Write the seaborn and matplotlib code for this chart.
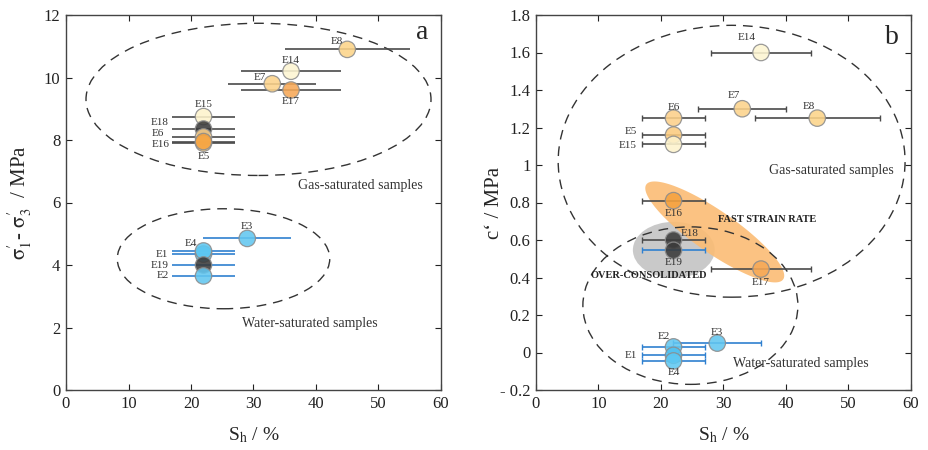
import numpy as np
import pandas as pd
import matplotlib
matplotlib.use("Agg")
import matplotlib.pyplot as plt
import seaborn as sns
from matplotlib.patches import Ellipse, Polygon

# ---------------- data ----------------
# panel a : deviatoric stress vs hydrate saturation
samples_a = ["E8", "E14", "E7", "E17", "E15", "E18", "E6", "E5", "E16",
             "E3", "E1", "E4", "E19", "E2"]
sh_a = [45, 36, 33, 36, 22, 22, 22, 22, 22, 29, 22, 22, 22, 22]
sh_err_a = [10, 8, 7, 8, 5, 5, 5, 5, 5, 7, 5, 5, 5, 5]
dev_a = [10.9, 10.2, 9.8, 9.6, 8.75, 8.35, 8.1, 7.9, 7.95,
         4.85, 4.35, 4.45, 4.0, 3.65]

# panel b : cohesion vs hydrate saturation
samples_b = ["E14", "E7", "E6", "E8", "E5", "E15", "E16", "E18", "E19",
             "E17", "E3", "E2", "E1", "E4"]
sh_b = [36, 33, 22, 45, 22, 22, 22, 22, 22, 36, 29, 22, 22, 22]
sh_err_b = [8, 7, 5, 10, 5, 5, 5, 5, 5, 8, 7, 5, 5, 5]
coh_b = [1.60, 1.30, 1.25, 1.25, 1.16, 1.11, 0.81, 0.60, 0.545,
         0.445, 0.05, 0.03, -0.015, -0.045]

water_samples = ["E1", "E2", "E3", "E4", "E19"]

x_ticks = [0, 10, 20, 30, 40, 50, 60]
ya_ticks = [0, 2, 4, 6, 8, 10, 12]
yb_ticks = [-0.2, 0, 0.2, 0.4, 0.6, 0.8, 1.0, 1.2, 1.4, 1.6, 1.8]
yb_labels = ["- 0.2", "0", "0.2", "0.4", "0.6", "0.8", "1", "1.2", "1.4", "1.6", "1.8"]

# ---------------- styles ----------------
fill = {"E8": "#fcd489", "E14": "#fdf5d2", "E7": "#fcd38b", "E17": "#f6a856",
        "E15": "#fdf3cc", "E18": "#3a3a3a", "E6": "#fcd08a", "E5": "#fbcb7e",
        "E16": "#f5a23e", "E3": "#62c6f0", "E1": "#4fc0ef", "E4": "#5ec8f2",
        "E19": "#3a3a3a", "E2": "#62c6f0"}
bar_gray = "#4a4a4a"
bar_blue = "#2f80d0"

# label offsets (pixels) and alignment
off_a = {"E8": (-10, 8, "center"), "E14": (0, 11, "center"), "E7": (-12, 6, "center"),
         "E17": (0, -12, "center"), "E15": (0, 12, "center"), "E18": (-35, 7, "right"),
         "E6": (-39, 3, "right"), "E16": (-34, -3, "right"), "E5": (0, -13, "center"),
         "E3": (0, 12, "center"), "E4": (-13, 7, "center"), "E1": (-35, 0, "right"),
         "E19": (-35, 0, "right"), "E2": (-35, 0, "right")}
off_b = {"E14": (-14, 15, "center"), "E7": (-8, 13, "center"), "E6": (0, 11, "center"),
         "E8": (-8, 12, "center"), "E5": (-37, 3, "right"), "E15": (-37, -1, "right"),
         "E16": (0, -13, "center"), "E18": (16, 6, "center"), "E19": (0, -12, "center"),
         "E17": (0, -13, "center"), "E3": (0, 11, "center"), "E2": (-10, 10, "center"),
         "E1": (-36, 0, "right"), "E4": (0, -12, "center")}

sns.set_theme(style="ticks")
plt.rcParams["font.family"] = ["Liberation Serif", "DejaVu Serif"]
plt.rcParams["mathtext.fontset"] = "stix"

fig = plt.figure(figsize=(9.29, 4.5), dpi=100)
axa = fig.add_axes([66 / 929, 60 / 450, 375 / 929, 375 / 450])
axb = fig.add_axes([536 / 929, 60 / 450, 375 / 929, 375 / 450])

dash = (0, (7, 5))


def draw_panel(ax, samples, xs, xerr, ys, offs, capsize):
    for s, x, e, y in zip(samples, xs, xerr, ys):
        col = bar_blue if s in water_samples else bar_gray
        ax.errorbar(x, y, xerr=e, fmt="none", ecolor=col, elinewidth=1.2,
                    capsize=capsize, capthick=1.0, zorder=2)
    df = pd.DataFrame({"sample": samples, "x": xs, "y": ys})
    sns.scatterplot(data=df, x="x", y="y", hue="sample", palette=fill, s=140,
                    edgecolor="#8c8c8c", linewidth=0.9, alpha=0.88,
                    legend=False, zorder=3, ax=ax)
    for s, x, y in zip(samples, xs, ys):
        dx, dy, ha = offs[s]
        ax.annotate(s, (x, y), xytext=(dx, dy), textcoords="offset pixels",
                    ha=ha, va="center", fontsize=8, color="#333333", zorder=4)


# ---- panel a ----
axa.add_patch(Ellipse((30.8, 9.3), 55.2, 4.87, fill=False, ec="#333333",
                      lw=1.0, ls=dash, zorder=1))
axa.add_patch(Ellipse((25.2, 4.2), 34.0, 3.2, fill=False, ec="#333333",
                      lw=1.0, ls=dash, zorder=1))
draw_panel(axa, samples_a, sh_a, sh_err_a, dev_a, off_a, 0)
axa.text(37.1, 6.56, "Gas-saturated samples", fontsize=10, va="center", color="#333333")
axa.text(28.2, 2.14, "Water-saturated samples", fontsize=10, va="center", color="#333333")
axa.text(57, 11.45, "a", fontsize=20, ha="center", va="center")
axa.set_xlim(0, 60)
axa.set_ylim(0, 12)
axa.set_xticks(x_ticks)
axa.set_yticks(ya_ticks)
axa.set_xlabel(r"S$_\mathrm{h}$ / %", fontsize=14)
axa.set_ylabel(r"$\mathrm{\sigma_1^{\prime}}$- $\mathrm{\sigma_3^{\prime}}$  / MPa", fontsize=15)

# ---- panel b ----
axb.add_patch(Ellipse((22.05, 0.547), 13.1, 0.30, fc="#c4c4c4", ec="none",
                      alpha=0.9, zorder=0.5))
t = np.linspace(0, 2 * np.pi, 200)
c0 = np.array([28.6, 0.643])
amaj = np.array([10.95, -0.253])
amin = np.array([1.91, 0.092])
pts = c0 + np.outer(np.cos(t), amaj) + np.outer(np.sin(t), amin)
axb.add_patch(Polygon(pts, closed=True, fc="#fbbc74", ec="none", alpha=0.9, zorder=0.6))
axb.add_patch(Ellipse((31.3, 1.02), 55.5, 1.45, fill=False, ec="#333333",
                      lw=1.0, ls=dash, zorder=1))
axb.add_patch(Ellipse((24.7, 0.25), 34.4, 0.84, fill=False, ec="#333333",
                      lw=1.0, ls=dash, zorder=1))
draw_panel(axb, samples_b, sh_b, sh_err_b, coh_b, off_b, 2.5)
axb.text(37.3, 0.973, "Gas-saturated samples", fontsize=10, va="center", color="#333333")
axb.text(31.5, -0.06, "Water-saturated samples", fontsize=10, va="center", color="#333333")
axb.text(37.0, 0.707, "FAST STRAIN RATE", fontsize=7.5, fontweight="bold",
         ha="center", va="center", color="#222222", zorder=5)
axb.text(18.0, 0.41, "OVER-CONSOLIDATED", fontsize=7.5, fontweight="bold",
         ha="center", va="center", color="#222222", zorder=5)
axb.text(57, 1.68, "b", fontsize=20, ha="center", va="center")
axb.set_xlim(0, 60)
axb.set_ylim(-0.2, 1.8)
axb.set_xticks(x_ticks)
axb.set_yticks(yb_ticks)
axb.set_yticklabels(yb_labels)
axb.set_xlabel(r"S$_\mathrm{h}$ / %", fontsize=14)
axb.set_ylabel("c\u2018 / MPa", fontsize=15)

for ax in (axa, axb):
    ax.tick_params(direction="in", top=True, right=True, length=4, width=0.8,
                   labelsize=12, colors="#222222", pad=4)
    for sp in ax.spines.values():
        sp.set_color("#444444")
        sp.set_linewidth(1.0)
    ax.yaxis.set_label_coords(-0.085, 0.5)
    ax.xaxis.set_label_coords(0.5, -0.095)

fig.savefig("out.png", dpi=100)
